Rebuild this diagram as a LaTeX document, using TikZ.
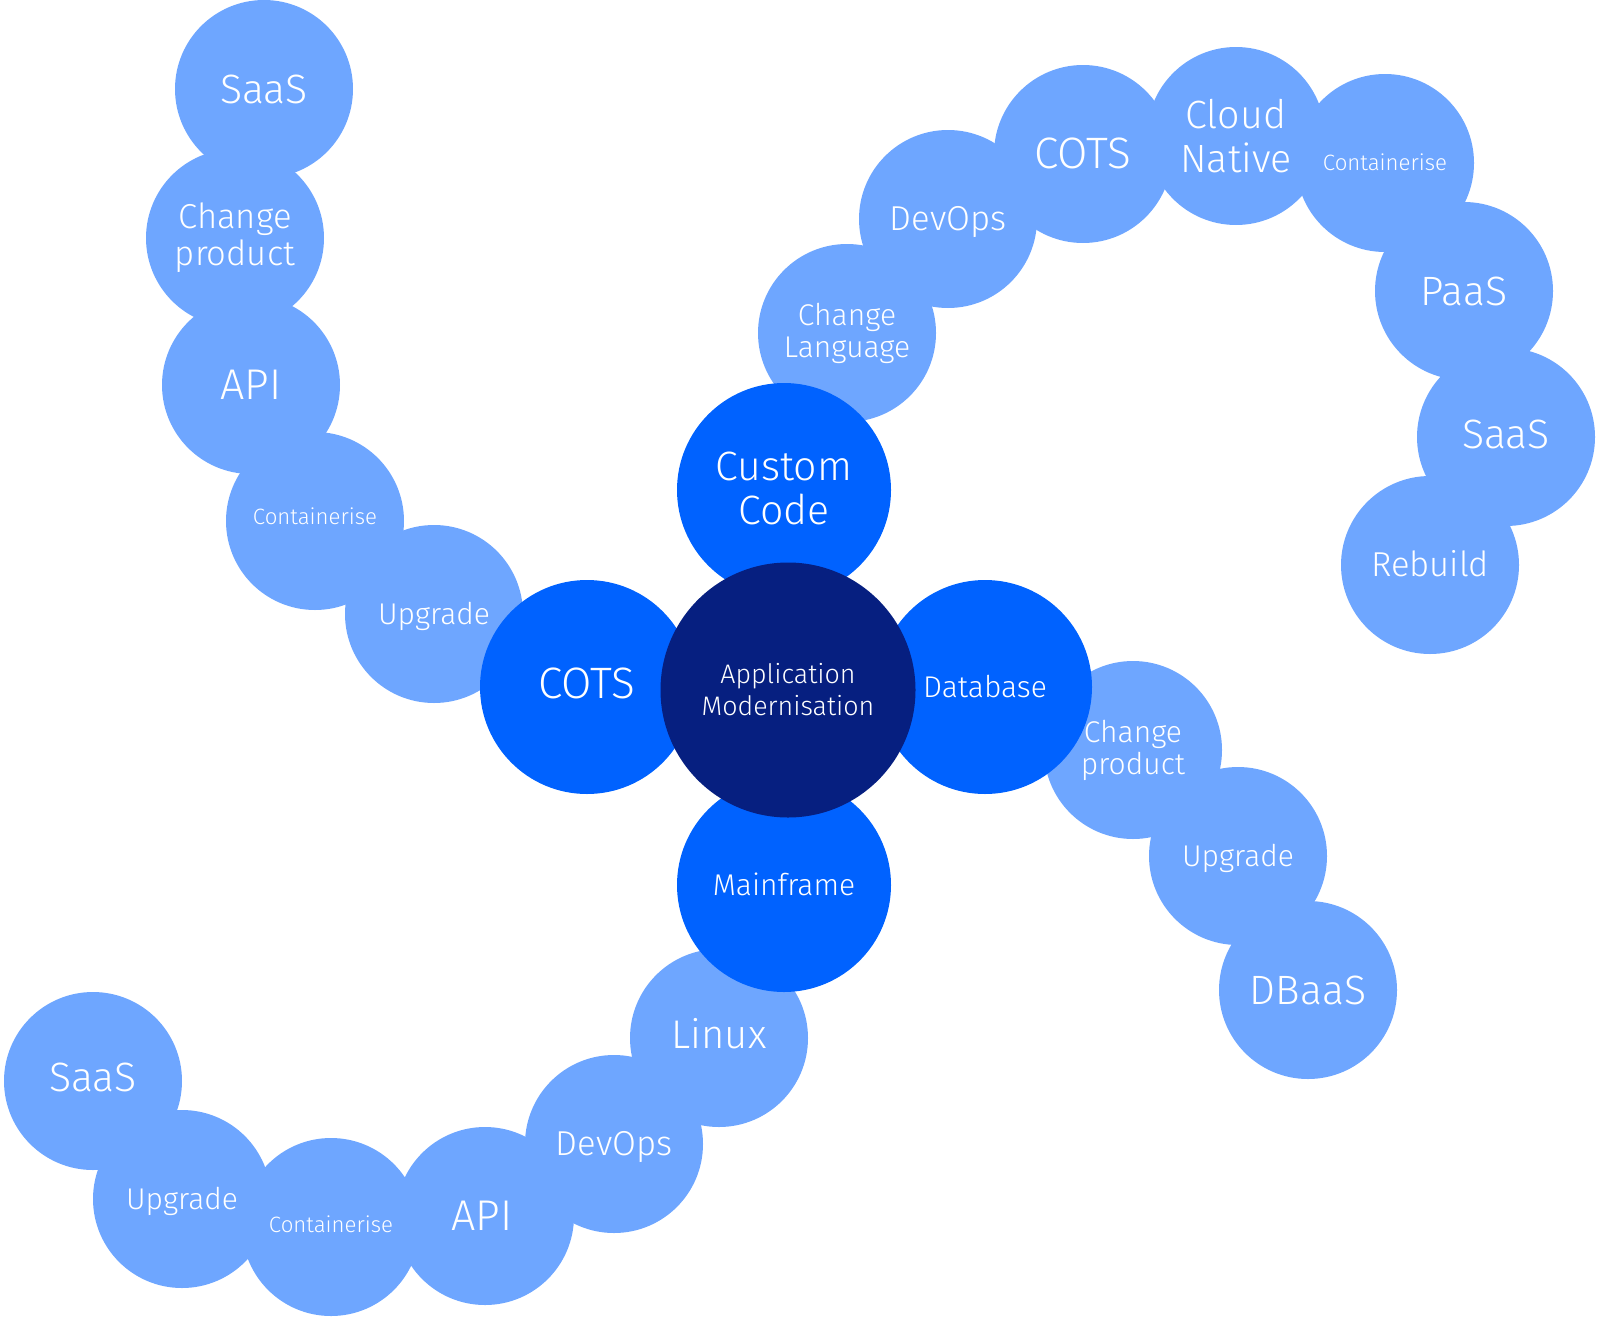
\documentclass[tikz,border=0pt]{standalone}
\usepackage{fontspec}
\setmainfont{Fira Sans Light}
\usepackage{tikz}
\usetikzlibrary{positioning}
\definecolor{bublite}{HTML}{6EA6FF}
\definecolor{bubmid}{HTML}{0062FF}
\definecolor{bubcore}{HTML}{061F80}

\begin{document}
\begin{tikzpicture}[
            x=0.5pt, y=-0.5pt,
            lite bub/.style ={circle, fill=bublite, inner sep=0pt, minimum size=89pt},
            mid bub/.style  ={circle, fill=bubmid, inner sep=0pt, minimum size=107pt},
            core bub/.style ={circle, fill=bubcore, inner sep=0pt, minimum size=127.5pt},
            lbl/.style      ={text=white, align=center, inner sep=0pt},
            lbl big/.style  ={lbl, font=\fontsize{20.5}{22}\selectfont},
            lbl two/.style  ={lbl, font=\fontsize{17.3}{18.5}\selectfont},
            lbl mid/.style  ={lbl, font=\fontsize{17.3}{18}\selectfont},
            lbl std/.style  ={lbl, font=\fontsize{15}{16}\selectfont},
            lbl core/.style ={lbl, font=\fontsize{13.4}{16}\selectfont},
            lbl tiny/.style ={lbl, font=\fontsize{11.1}{12}\selectfont},
            one/.style      ={text depth=0pt, text height=#1}
        ]
        \useasboundingbox (0,0) rectangle (1600,1317);

        %% ---- outer bubbles ---------------------------------------------------
        % top-left chain (from COTS)
        \node[lite bub] (tlSaas)  at (264,89)  {};
        \node[lite bub] (tlChg)   at (235,238) {};
        \node[lite bub] (tlApi)   at (251,385) {};
        \node[lite bub] (tlCont)  at (315,521) {};
        \node[lite bub] (tlUpg)   at (434,614) {};
        % top-right chain (from Custom Code)
        \node[lite bub] (trLang)  at (847,333) {};
        \node[lite bub] (trDev)   at (948,219) {};
        \node[lite bub] (trCots)  at (1083,154) {};
        \node[lite bub] (trCloud) at (1236,136) {};
        \node[lite bub] (trCont)  at (1385,163) {};
        \node[lite bub] (trPaas)  at (1464,291) {};
        \node[lite bub] (trSaas)  at (1506,437) {};
        \node[lite bub] (trRebld) at (1430,565) {};
        % right chain (from Database)
        \node[lite bub] (rChg)    at (1133,750) {};
        \node[lite bub] (rUpg)    at (1238,856) {};
        \node[lite bub] (rDbaas)  at (1308,990) {};
        % bottom chain (from Mainframe)
        \node[lite bub] (bLinux)  at (719,1038) {};
        \node[lite bub] (bDev)    at (614,1144) {};
        \node[lite bub] (bApi)    at (485,1216) {};
        \node[lite bub] (bCont)   at (331,1227) {};
        \node[lite bub] (bUpg)    at (182,1199) {};
        \node[lite bub] (bSaas)   at (93,1081)  {};

        %% ---- inner ring and core ---------------------------------------------
        \node[mid bub] (custom) at (784,490) {};
        \node[mid bub] (cots)   at (587,687) {};
        \node[mid bub] (dbase)  at (985,687) {};
        \node[mid bub] (mframe) at (784,885) {};
        \node[core bub] (core)  at (788,690) {};

        %% ---- labels last, so no bubble hides them ----------------------------
        \node[lbl big, one=14.1pt] (tlSaasT)  at (tlSaas) {SaaS};
        \node[lbl two]             (tlChgT)   at (tlChg) {Change\\product};
        \node[lbl big, one=14.1pt, font=\fontsize{21.5}{22}\selectfont] (tlApiT) at (tlApi) {API};
        \node[lbl tiny, one=7.7pt] (tlContT)  at ([yshift=2]tlCont) {Containerise};
        \node[lbl std, one=10.3pt] (tlUpgT)   at (tlUpg) {Upgrade};

        \node[lbl std]             (trLangT)  at (trLang) {Change\\Language};
        \node[lbl mid, one=11.9pt] (trDevT)   at (trDev) {DevOps};
        \node[lbl big, one=14.1pt, font=\fontsize{22}{22}\selectfont] (trCotsT) at (trCots) {COTS};
        \node[lbl big, font=\fontsize{19.7}{22}\selectfont] (trCloudT) at (trCloud) {Cloud\\Native};
        \node[lbl tiny, one=7.7pt] (trContT)  at (trCont) {Containerise};
        \node[lbl big, one=14.1pt] (trPaasT)  at (trPaas) {PaaS};
        \node[lbl big, one=14.1pt] (trSaasT)  at ([yshift=1.5]trSaas) {SaaS};
        \node[lbl mid, one=11.9pt] (trRebldT) at (trRebld) {Rebuild};

        \node[lbl std]             (rChgT)    at (rChg) {Change\\product};
        \node[lbl std, one=10.3pt] (rUpgT)    at (rUpg) {Upgrade};
        \node[lbl big, one=14.1pt] (rDbaasT)  at (rDbaas) {DBaaS};

        \node[lbl big, one=14.1pt, font=\fontsize{20}{22}\selectfont] (bLinuxT) at ([yshift=2]bLinux) {Linux};
        \node[lbl mid, one=11.9pt] (bDevT)    at (bDev) {DevOps};
        \node[lbl big, one=14.1pt, font=\fontsize{21.5}{22}\selectfont] (bApiT) at ([xshift=-1.5]bApi) {API};
        \node[lbl tiny, one=7.7pt] (bContT)   at ([yshift=1]bCont) {Containerise};
        \node[lbl std, one=10.3pt] (bUpgT)    at (bUpg) {Upgrade};
        \node[lbl big, one=14.1pt] (bSaasT)   at ([yshift=2]bSaas) {SaaS};

        \node[lbl big]             (customT)  at ([yshift=1]custom) {Custom\\Code};
        \node[lbl big, one=14.1pt, font=\fontsize{22}{22}\selectfont] (cotsT) at ([yshift=1.5]cots) {COTS};
        \node[lbl std, one=10.3pt] (dbaseT)   at (dbase) {Database};
        \node[lbl std, one=10.3pt] (mframeT)  at (mframe) {Mainframe};
        \node[lbl core]            (coreT)    at (core) {Application\\Modernisation};
    \end{tikzpicture}
\end{document}
